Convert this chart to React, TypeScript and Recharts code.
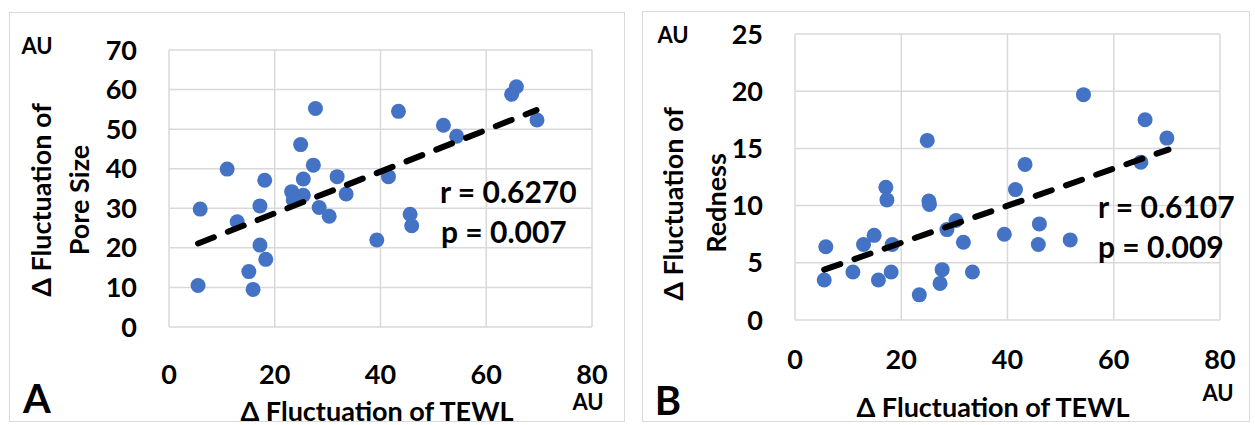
import { ScatterChart, Scatter, XAxis, YAxis, CartesianGrid } from "recharts";

// Panel A: pore size vs TEWL
const poreTewl = [27.7, 43.4, 24.9, 27.3, 11.0, 18.1, 25.4, 31.8, 41.5, 23.2, 25.4, 23.5, 33.5, 28.4, 30.3, 5.9, 17.2, 12.9, 17.2, 18.3, 15.1, 15.9, 5.5, 39.3, 65.7, 64.8, 69.6, 51.9, 54.4, 45.6, 45.9];
const poreSize = [55.2, 54.5, 46.1, 40.9, 39.9, 37.1, 37.4, 38.0, 38.0, 34.2, 33.3, 32.1, 33.6, 30.2, 28.0, 29.8, 30.6, 26.6, 20.7, 17.1, 14.0, 9.5, 10.5, 22.0, 60.7, 58.8, 52.3, 51.0, 48.2, 28.5, 25.6];
const poreTrendX = [5.5, 69.5];
const poreTrendY = [21.1, 54.8];

// Panel B: redness vs TEWL
const rednessTewl = [24.9, 17.1, 17.3, 25.2, 25.3, 43.3, 41.5, 30.3, 28.6, 31.7, 39.4, 5.8, 12.9, 14.9, 18.3, 5.5, 10.9, 15.7, 18.1, 27.7, 27.3, 33.4, 23.4, 54.3, 65.9, 70.0, 65.1, 46.0, 45.8, 51.8];
const redness = [15.7, 11.6, 10.5, 10.4, 10.1, 13.6, 11.4, 8.7, 7.9, 6.8, 7.5, 6.4, 6.6, 7.4, 6.6, 3.5, 4.2, 3.5, 4.2, 4.4, 3.2, 4.2, 2.2, 19.7, 17.5, 15.9, 13.8, 8.4, 6.6, 7.0];
const rednessTrendX = [5.5, 70.3];
const rednessTrendY = [4.4, 14.9];

const xTicks = [0, 20, 40, 60, 80];
const poreTicks = [0, 10, 20, 30, 40, 50, 60, 70];
const rednessTicks = [0, 5, 10, 15, 20, 25];

const FONT = "Lato, 'Open Sans', sans-serif";
const DOT = "#4472C4";
const GRID = "#d9d9d9";

const toPoints = (xs: number[], ys: number[]) => xs.map((x, i) => ({ x, y: ys[i] }));

const dot = (props: any) => <circle cx={props.cx} cy={props.cy} r={7.5} fill={DOT} />;
const noDot = () => <g />;

const tickStyle = { fill: "#000", fontSize: 27, fontWeight: 700, fontFamily: FONT };

function Panel(props: {
  left: number;
  width: number;
  margin: { top: number; right: number; bottom: number; left: number };
  xTickGap: number;
  yTicks: number[];
  points: { x: number; y: number }[];
  trend: { x: number; y: number }[];
}) {
  const yMax = props.yTicks[props.yTicks.length - 1];
  return (
    <div style={{ position: "absolute", left: props.left, top: 0 }}>
      <ScatterChart width={props.width} height={425} margin={props.margin}>
        <CartesianGrid stroke={GRID} strokeWidth={1.5} />
        <XAxis
          type="number"
          dataKey="x"
          domain={[0, 80]}
          ticks={xTicks}
          height={60}
          axisLine={false}
          tickLine={false}
          tickSize={0}
          tickMargin={props.xTickGap}
          tick={tickStyle}
          interval={0}
        />
        <YAxis
          type="number"
          dataKey="y"
          domain={[0, yMax]}
          ticks={props.yTicks}
          width={60}
          axisLine={false}
          tickLine={false}
          tickSize={0}
          tickMargin={32}
          tick={tickStyle}
          interval={0}
        />
        <Scatter data={props.points} shape={dot} isAnimationActive={false} />
        <Scatter
          data={props.trend}
          shape={noDot}
          line={{ stroke: "#000", strokeWidth: 6, strokeDasharray: "17 15", strokeLinecap: "round" }}
          isAnimationActive={false}
        />
      </ScatterChart>
    </div>
  );
}

function Txt(props: { x: number; y: number; size: number; children: any; anchor?: "left" | "center"; rotate?: boolean }) {
  const tx = props.anchor === "left" ? "0" : "-50%";
  return (
    <div
      style={{
        position: "absolute",
        left: props.x,
        top: props.y,
        transform: `translate(${tx}, -50%)${props.rotate ? " rotate(-90deg)" : ""}`,
        fontFamily: FONT,
        fontWeight: 700,
        fontSize: props.size,
        lineHeight: 1,
        whiteSpace: "nowrap",
        color: "#000",
      }}
    >
      {props.children}
    </div>
  );
}

export default function App() {
  return (
    <div style={{ position: "absolute", left: 0, top: 0, width: 1255, height: 425, background: "#fff", overflow: "hidden" }}>
      <div style={{ position: "absolute", left: 9, top: 12, width: 616, height: 410, border: `1px solid ${GRID}`, boxSizing: "border-box" }} />
      <div style={{ position: "absolute", left: 642, top: 11, width: 608, height: 411, border: `1px solid ${GRID}`, boxSizing: "border-box" }} />

      <Panel
        left={0}
        width={630}
        margin={{ top: 50, left: 109, right: 38, bottom: 38 }}
        xTickGap={38}
        yTicks={poreTicks}
        points={toPoints(poreTewl, poreSize)}
        trend={toPoints(poreTrendX, poreTrendY)}
      />
      <Panel
        left={630}
        width={625}
        margin={{ top: 34, left: 105, right: 35, bottom: 45 }}
        xTickGap={30}
        yTicks={rednessTicks}
        points={toPoints(rednessTewl, redness)}
        trend={toPoints(rednessTrendX, rednessTrendY)}
      />

      {/* Panel A texts */}
      <Txt x={37} y={46} size={22}>AU</Txt>
      <Txt x={40} y={200} size={27} rotate>Δ Fluctuation of</Txt>
      <Txt x={78} y={200} size={27} rotate>Pore Size</Txt>
      <Txt x={37} y={398} size={40}>A</Txt>
      <Txt x={377} y={410} size={27}>Δ Fluctuation of TEWL</Txt>
      <Txt x={588} y={402} size={22}>AU</Txt>
      <Txt x={440} y={191} size={30} anchor="left">r = 0.6270</Txt>
      <Txt x={441} y={231} size={30} anchor="left">p = 0.007</Txt>

      {/* Panel B texts */}
      <Txt x={673} y={35} size={22}>AU</Txt>
      <Txt x={672} y={204} size={27} rotate>Δ Fluctuation of</Txt>
      <Txt x={715} y={203} size={27} rotate>Redness</Txt>
      <Txt x={668} y={400} size={40}>B</Txt>
      <Txt x={993} y={406} size={27}>Δ Fluctuation of TEWL</Txt>
      <Txt x={1218} y={393} size={22}>AU</Txt>
      <Txt x={1098} y={206} size={30} anchor="left">r = 0.6107</Txt>
      <Txt x={1098} y={246} size={30} anchor="left">p = 0.009</Txt>
    </div>
  );
}
